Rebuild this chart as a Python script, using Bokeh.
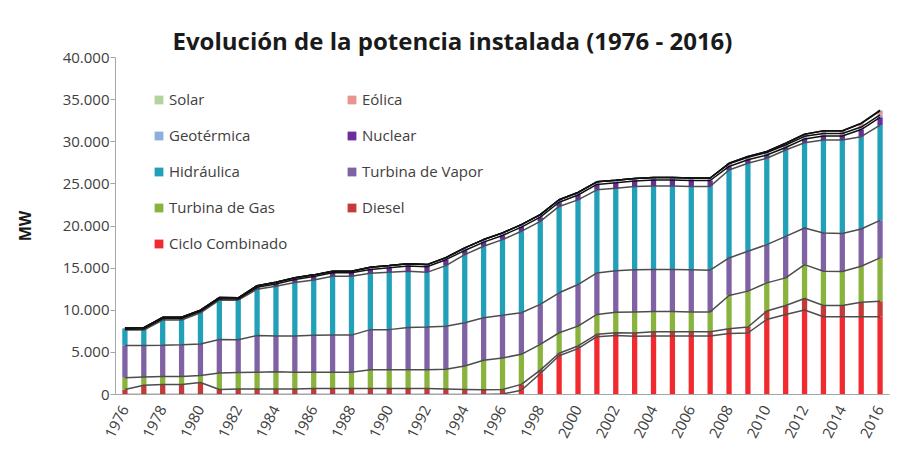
import numpy as np
from bokeh.plotting import figure
from bokeh.models import ColumnDataSource, FixedTicker, Legend, LegendItem
from bokeh.embed import file_html
from bokeh.resources import INLINE

years = list(range(1976, 2017))

ciclo_combinado = [0, 0, 0, 0, 0, 0, 0, 0, 0, 0, 0, 0, 0, 0, 0, 0, 0, 0, 0, 0,
                   50, 500, 2500, 4600, 5450, 6860, 6990, 6900, 6950, 6950, 6950, 6950,
                   7250, 7300, 8910, 9500, 10020, 9230, 9230, 9230, 9230]
diesel = [600, 1100, 1180, 1200, 1420, 600, 650, 650, 650, 650, 700, 700, 700, 700, 700,
          700, 700, 650, 600, 550, 550, 700, 400, 300, 310, 280, 340, 400, 490, 490, 490,
          490, 560, 710, 990, 1060, 1370, 1330, 1330, 1730, 1850]
turbina_gas = [1400, 980, 970, 950, 830, 1950, 1950, 2000, 2050, 2000, 1950, 1950, 1950,
               2250, 2250, 2250, 2250, 2350, 2790, 3510, 3740, 3570, 3050, 2430, 2360, 2360,
               2420, 2500, 2410, 2410, 2360, 2360, 3940, 4260, 3350, 3280, 4030, 4070, 4040,
               4260, 5130]
turbina_vapor = [3830, 3750, 3700, 3750, 3750, 3990, 3900, 4350, 4250, 4300, 4370, 4400,
                 4400, 4750, 4750, 5000, 5050, 5100, 5130, 5050, 5060, 4930, 4740, 4740,
                 4930, 4930, 4950, 5000, 5000, 5000, 5000, 4950, 4460, 4730, 4540, 4930,
                 4340, 4540, 4500, 4420, 4460]
hidraulica = [1820, 1820, 2990, 2940, 3700, 4660, 4700, 5500, 5900, 6350, 6580, 6990, 6990,
              6700, 6800, 6680, 6500, 7200, 8080, 8480, 8980, 9670, 9860, 10250, 10050, 9860,
              9790, 9900, 9900, 9900, 9900, 9950, 10440, 10450, 10250, 10250, 10130, 11030,
              11100, 10960, 11310]
nuclear = [100, 130, 170, 180, 170, 150, 130, 220, 270, 360, 400, 400, 400, 450, 550, 630,
           670, 700, 498, 498, 498, 498, 498, 498, 578, 648, 648, 648, 698, 698, 698, 698,
           420, 415, 380, 300, 450, 490, 480, 850, 920]
geotermica = [150, 150, 150, 150, 150, 150, 150, 200, 200, 200, 200, 200, 200, 250, 250,
              250, 250, 250, 300, 300, 300, 300, 300, 300, 300, 300, 300, 300, 300, 300,
              300, 300, 300, 300, 300, 300, 300, 300, 300, 300, 300]
eolica = [0, 0, 0, 0, 0, 0, 0, 0, 0, 0, 0, 0, 0, 0, 0, 0, 0, 0, 2, 2, 2, 2, 2, 2, 2, 2, 2,
          2, 2, 2, 2, 2, 80, 85, 120, 200, 250, 300, 300, 400, 450]
solar = [0, 0, 0, 0, 0, 0, 0, 0, 0, 0, 0, 0, 0, 0, 0, 0, 0, 0, 0, 0, 0, 0, 0, 0, 0, 0, 0,
         0, 0, 0, 0, 0, 0, 0, 0, 0, 0, 10, 20, 50, 100]

series_keys = ["cc", "diesel", "gas", "vapor", "hidr", "nuclear", "geo", "eol", "solar"]
series_names = ["Ciclo Combinado", "Diesel", "Turbina de Gas", "Turbina de Vapor",
                "Hidráulica", "Nuclear", "Geotérmica", "Eólica", "Solar"]
series_values = [ciclo_combinado, diesel, turbina_gas, turbina_vapor, hidraulica,
                 nuclear, geotermica, eolica, solar]
colors = ["#f02a2e", "#c43a36", "#8ab33e", "#7f62a3", "#22a0b9", "#6b2c9c",
          "#8eaedb", "#e8958f", "#b3d39a"]

y_ticks = [0, 5000, 10000, 15000, 20000, 25000, 30000, 35000, 40000]
x_ticks = list(range(1976, 2017, 2))

data = {"year": years}
for k, v in zip(series_keys, series_values):
    data[k] = v
source = ColumnDataSource(data)

FONT = "Open Sans"
TXT = "#404040"

p = figure(width=907, height=452, output_backend="svg", toolbar_location=None,
           x_range=(1975.5, 2016.5), y_range=(0, 40000),
           min_border_left=115, min_border_right=18, min_border_top=57,
           min_border_bottom=58,
           title="Evolución de la potencia instalada (1976 - 2016)")
p.title.align = "left"
p.title.offset = 57
p.title.text_font = FONT
p.title.text_font_style = "bold"
p.title.text_font_size = "24px"
p.title.text_color = "#1a1a1a"
p.title.standoff = 2
p.background_fill_color = "white"
p.border_fill_color = "white"
p.outline_line_color = None
p.xgrid.visible = False
p.ygrid.visible = False

renderers = p.vbar_stack(series_keys, x="year", width=0.28, color=colors,
                         line_color=None, source=source)

cum = np.cumsum(np.array(series_values, dtype=float), axis=0)
for i in range(len(series_keys)):
    col = "#111111" if i >= 5 else "#4d4d4d"
    p.line(years, cum[i], line_color=col, line_width=1.5)

# axes
p.yaxis.ticker = FixedTicker(ticks=y_ticks)
p.yaxis.major_label_overrides = {t: f"{t:,}".replace(",", ".") for t in y_ticks}
p.yaxis.minor_tick_line_color = None
p.yaxis.major_tick_out = 5
p.yaxis.major_tick_in = 0
p.yaxis.major_tick_line_color = "#a6a6a6"
p.yaxis.axis_line_color = "#a6a6a6"
p.yaxis.major_label_text_font = FONT
p.yaxis.major_label_text_font_size = "15px"
p.yaxis.major_label_text_color = TXT
p.yaxis.major_label_standoff = 1
p.yaxis.axis_label = "MW"
p.yaxis.axis_label_text_font = FONT
p.yaxis.axis_label_text_font_style = "bold"
p.yaxis.axis_label_text_font_size = "16px"
p.yaxis.axis_label_text_color = "#1a1a1a"
p.yaxis.axis_label_standoff = 24

p.xaxis.ticker = FixedTicker(ticks=x_ticks)
p.xaxis.minor_tick_line_color = None
p.xaxis.major_tick_line_color = None
p.xaxis.axis_line_color = "#a6a6a6"
p.xaxis.major_label_orientation = 1.1
p.xaxis.major_label_text_font = FONT
p.xaxis.major_label_text_font_size = "15px"
p.xaxis.major_label_text_color = TXT
p.xaxis.major_label_standoff = 6

# legend in two columns
rmap = dict(zip(series_names, renderers))
col1 = ["Solar", "Geotérmica", "Hidráulica", "Turbina de Gas", "Ciclo Combinado"]
col2 = ["Eólica", "Nuclear", "Turbina de Vapor", "Diesel"]
for names, loc in ((col1, (38, 141)), (col2, (231, 177))):
    lg = Legend(items=[LegendItem(label=n, renderers=[rmap[n]]) for n in names],
                location=loc, orientation="vertical")
    lg.glyph_width = 11
    lg.glyph_height = 11
    lg.label_height = 20
    lg.spacing = 16
    lg.padding = 0
    lg.margin = 0
    lg.label_standoff = 5
    lg.label_text_font = FONT
    lg.label_text_font_size = "15px"
    lg.label_text_color = TXT
    lg.border_line_color = None
    lg.background_fill_alpha = 0
    p.add_layout(lg, "center")

open("out.html", "w").write(file_html(p, INLINE))
